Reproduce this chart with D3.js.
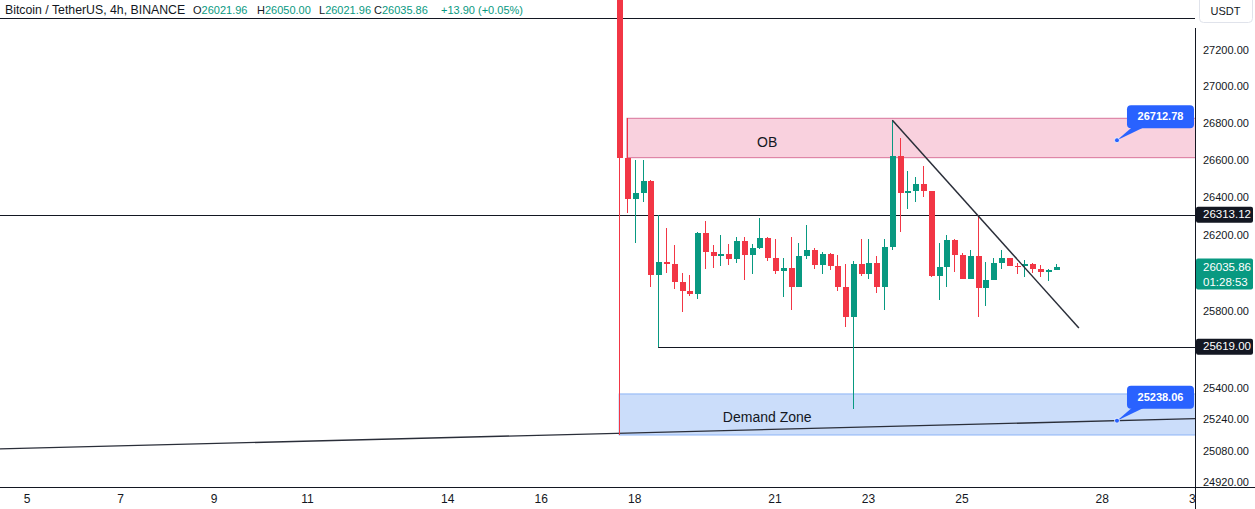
<!DOCTYPE html>
<html><head><meta charset="utf-8">
<script src="https://cdn.jsdelivr.net/npm/d3@7"></script>
<style>html,body{margin:0;padding:0;background:#fff;overflow:hidden}</style>
</head><body>
<svg id="c" width="1255" height="509"></svg>
<script>
// ---------- DATA ----------
const startTime = "2023-08-17T16:00:00Z";   // first visible 4h candle
const candleHours = 4;
const opens = [28380,26618.7,26395.2,26428.9,26493.2,25995.3,26060.7,26050.2,25958.5,25911.2,
  25895.5,26215.9,26116.7,26095.8,26104.8,26079.7,26173.3,26100.6,26136.3,26190.8,
  26085.0,26016.4,26030.6,25932.2,26095.8,26126.0,26048.1,26104.8,26042.8,25932.2,
  25775.2,26051.7,26000.6,26055.4,25932.2,26141.6,26627.8,26426.7,26441.2,26477.2,
  26437.4,25990.1,26037.5,26178.6,26100.6,25974.3,26094.2,25927.0,25967.4,26057.0,
  26083.4,26042.8,26039.6,26051.7,26027.0,26011.3,26021.96];
const highs = [28420,26831.8,26606.3,26606.3,26498.6,26313.12,26242.4,26152.2,26004.3,25993.8,
  26222.8,26279.6,26153.7,26205.2,26157.4,26196.1,26196.1,26157.4,26297.2,26194.5,
  26185.5,26083.4,26196.1,26162.7,26258.3,26136.3,26113.7,26110.0,26101.0,26051.7,
  26067.5,26184.0,26184.0,26094.2,26184.0,26821.0,26724.9,26547.0,26516.4,26574.0,
  26441.2,26162.7,26205.2,26184.0,26108.5,26126.0,26313.12,26062.3,26083.4,26126.0,
  26085.0,26057.0,26072.8,26057.0,26046.5,26025.5,26050.00];
const lows = [25165.0,26320.6,26161.1,26382.4,25932.2,25619.00,26005.9,25920.2,25801.3,25885.0,
  25869.0,26027.0,26032.3,26042.8,26048.1,26058.6,25967.4,26000.6,26132.6,26069.1,
  26000.6,25879.8,25810.2,25932.2,26078.0,26027.0,26000.6,26020.2,25909.7,25723.2,
  25299.3,25990.1,25974.3,25900.7,25810.2,26127.3,26222.8,26345.0,26382.4,26409.5,
  25985.0,25864.0,25932.2,26009.6,25974.3,25974.3,25775.2,25832.6,25967.4,26027.0,
  26040.0,26000.6,25984.8,26005.9,25984.8,25963.8,26021.96];
const closes = [26618.7,26395.2,26428.9,26493.2,25995.3,26060.7,26050.2,25958.5,25911.2,25895.5,
  26215.9,26116.7,26095.8,26104.8,26079.7,26173.3,26100.6,26136.3,26190.8,26085.0,
  26016.4,26030.6,25932.2,26095.8,26126.0,26048.1,26104.8,26042.8,25932.2,25775.2,
  26051.7,26000.6,26055.4,25932.2,26141.6,26627.8,26426.7,26441.2,26477.2,26437.4,
  25990.1,26037.5,26178.6,26100.6,25974.3,26094.2,25927.0,25967.4,26057.0,26083.4,
  26042.8,26039.6,26051.7,26027.0,26011.3,26020.2,26035.86];

const dayTicks = ["2023-08-05","2023-08-07","2023-08-09","2023-08-11","2023-08-14","2023-08-16",
  "2023-08-18","2023-08-21","2023-08-23","2023-08-25","2023-08-28","2023-08-30"];
const priceTicks = [27200,27000,26800,26600,26400,26200,25800,25400,25240,25080,24920];

// drawings
const levelPrices = [27382.4, 26313.12, 25619.00];
const levelStartCandle = [null, null, 5];
const obZone = {fromCandle:1, top:26831.8, bottom:26618.7, label:"OB", labelTime:"2023-08-20T20:00:00Z", labelPrice:26698};
const demandZone = {fromCandle:0, top:25375, bottom:25165.0, label:"Demand Zone", labelTime:"2023-08-20T20:00:00Z", labelPrice:25252};
const supportLine = [{t:"2023-08-17T16:00:00Z", p:25173.8},{t:"2023-08-28T07:34:00Z", p:25238.06}];
const downTrend = [{candle:35, p:26821.0},{t:"2023-08-27T12:00:00Z", p:25716}];
const callouts = [{t:"2023-08-28T07:34:00Z", p:26712.78},{t:"2023-08-28T07:34:00Z", p:25238.06}];
const lastPrice = 26035.86, countdown = "01:28:53";
const header = {title:"Bitcoin / TetherUS, 4h, BINANCE", O:"26021.96", H:"26050.00", L:"26021.96", C:"26035.86", chg:"+13.90 (+0.05%)"};

// ---------- CHART ----------
const W = 1255, H = 509, plotR = 1195, plotB = 487;
const UP = "#089981", DN = "#f23645", INK = "#131722";
const FONT = "'Liberation Sans', Arial, sans-serif";
const svg = d3.select("#c").style("font-family", FONT);

const x = d3.scaleUtc()
  .domain([new Date("2023-08-05T00:00:00Z"), new Date("2023-08-30T00:00:00Z")])
  .range([27, 1195.75]);
const y = d3.scaleLog().domain([27200, 24920]).range([51, 483.3]);

const t0 = new Date(startTime).getTime();
const candles = opens.map((o, i) => ({
  t: new Date(t0 + i * candleHours * 3600e3), o, h: highs[i], l: lows[i], c: closes[i]
}));

const defs = svg.append("defs");
defs.append("clipPath").attr("id", "plot").append("rect").attr("x", 0).attr("y", 0).attr("width", plotR).attr("height", plotB);
defs.append("clipPath").attr("id", "xax").append("rect").attr("x", 0).attr("y", plotB).attr("width", plotR).attr("height", H - plotB);

const g = svg.append("g").attr("clip-path", "url(#plot)");

// zones
function zone(z, fill, stroke) {
  const x0 = x(candles[z.fromCandle].t);
  g.append("rect").attr("x", x0).attr("y", y(z.top)).attr("width", plotR + 5 - x0)
    .attr("height", y(z.bottom) - y(z.top)).attr("fill", fill).attr("stroke", stroke).attr("stroke-width", 1);
  g.append("text").attr("x", x(new Date(z.labelTime))).attr("y", y(z.labelPrice))
    .attr("text-anchor", "middle").attr("dominant-baseline", "middle")
    .attr("font-size", 14).attr("fill", INK).text(z.label);
}
zone(obZone, "#f9d1de", "#d9739a");
zone(demandZone, "#cbddfa", "#8db4f6");

// horizontal levels
levelPrices.forEach((p, i) => {
  const xs = levelStartCandle[i] == null ? 0 : x(candles[levelStartCandle[i]].t);
  const yy = Math.round(y(p)) + 0.5;
  g.append("line").attr("x1", xs).attr("x2", plotR).attr("y1", yy).attr("y2", yy)
    .attr("stroke", INK).attr("stroke-width", 1);
});

// support (extended) line
{
  const ax = x(new Date(supportLine[0].t)), ay = y(supportLine[0].p);
  const bx = x(new Date(supportLine[1].t)), by = y(supportLine[1].p);
  const s = (by - ay) / (bx - ax);
  g.append("line").attr("x1", 0).attr("y1", ay - ax * s).attr("x2", plotR).attr("y2", ay + (plotR - ax) * s)
    .attr("stroke", "#2a2e39").attr("stroke-width", 1.3);
}

// candles
const cg = g.append("g");
candles.forEach(d => {
  const cx = Math.round(x(d.t));
  const col = d.c >= d.o ? UP : DN;
  cg.append("rect").attr("x", cx).attr("width", 1).attr("y", y(d.h)).attr("height", Math.max(1, y(d.l) - y(d.h)))
    .attr("fill", col).attr("shape-rendering", "crispEdges");
  const top = y(Math.max(d.o, d.c)), bot = y(Math.min(d.o, d.c));
  cg.append("rect").attr("x", cx - 2).attr("width", 5.5).attr("y", top).attr("height", Math.max(1, bot - top))
    .attr("fill", col).attr("shape-rendering", "crispEdges");
});

// down trend line
{
  const a = downTrend[0], b = downTrend[1];
  g.append("line").attr("x1", x(candles[a.candle].t) + 0.5).attr("y1", y(a.p))
    .attr("x2", x(new Date(b.t))).attr("y2", y(b.p))
    .attr("stroke", "#2a2e39").attr("stroke-width", 1.5);
}

// callouts
callouts.forEach(cl => {
  const px = x(new Date(cl.t)), py = y(cl.p);
  const bx = px + 10, by = py - 35, bw = 67, bh = 23;
  svg.append("path").attr("d", `M${px},${py} L${bx + 5},${by + bh - 1} L${bx + 17},${by + bh - 1} Z`).attr("fill", "#2962ff");
  svg.append("rect").attr("x", bx).attr("y", by).attr("width", bw).attr("height", bh).attr("rx", 4).attr("fill", "#2962ff");
  svg.append("text").attr("x", bx + bw / 2).attr("y", by + bh / 2 + 0.5).attr("text-anchor", "middle")
    .attr("dominant-baseline", "middle").attr("font-size", 11).attr("font-weight", "bold").attr("fill", "#fff")
    .text(cl.p.toFixed(2));
  svg.append("circle").attr("cx", px).attr("cy", py).attr("r", 2.5).attr("fill", "#2962ff").attr("stroke", "#fff").attr("stroke-width", 0.8);
});

// axes frame
svg.append("line").attr("x1", 0).attr("x2", W).attr("y1", plotB + 0.5).attr("y2", plotB + 0.5).attr("stroke", INK);
svg.append("line").attr("x1", plotR + 0.5).attr("x2", plotR + 0.5).attr("y1", 28).attr("y2", H).attr("stroke", INK);

// x axis labels
const xg = svg.append("g").attr("clip-path", "url(#xax)");
dayTicks.forEach(ds => {
  const d = new Date(ds + "T00:00:00Z");
  xg.append("text").attr("x", x(d)).attr("y", 503).attr("text-anchor", "middle")
    .attr("font-size", 12).attr("fill", INK).text(d.getUTCDate());
});

// y axis labels
priceTicks.forEach(p => {
  svg.append("text").attr("x", 1203).attr("y", y(p)).attr("dominant-baseline", "middle")
    .attr("font-size", 11).attr("fill", INK).text(p.toFixed(2));
});
svg.append("rect").attr("x", plotR + 1).attr("y", plotB + 1).attr("width", W - plotR).attr("height", H - plotB).attr("fill", "#fff");

// level price tags
[levelPrices[1], levelPrices[2]].forEach(p => {
  const yy = y(p);
  svg.append("rect").attr("x", plotR + 1).attr("y", yy - 8).attr("width", 57).attr("height", 16).attr("rx", 2).attr("fill", INK);
  svg.append("text").attr("x", 1203).attr("y", yy + 0.5).attr("dominant-baseline", "middle")
    .attr("font-size", 11.5).attr("fill", "#fff").text(p.toFixed(2));
});
{
  const yy = y(lastPrice);
  svg.append("rect").attr("x", plotR + 1).attr("y", yy - 8.5).attr("width", 57).attr("height", 31).attr("rx", 2).attr("fill", UP);
  svg.append("text").attr("x", 1203).attr("y", yy + 0.5).attr("dominant-baseline", "middle")
    .attr("font-size", 11.5).attr("fill", "#fff").text(lastPrice.toFixed(2));
  svg.append("text").attr("x", 1203).attr("y", yy + 15.5).attr("dominant-baseline", "middle")
    .attr("font-size", 11.5).attr("fill", "#fff").text(countdown);
}

// USDT box
svg.append("rect").attr("x", 1199.5).attr("y", -4).attr("width", 53).attr("height", 26.5).attr("rx", 4)
  .attr("fill", "#fff").attr("stroke", "#e0e3eb");
svg.append("text").attr("x", 1225.5).attr("y", 12.5).attr("text-anchor", "middle").attr("dominant-baseline", "middle")
  .attr("font-size", 11).attr("fill", INK).text("USDT");

// header
const hd = svg.append("text").attr("y", 14).attr("font-size", 12.3).attr("fill", INK);
hd.append("tspan").attr("x", 5).text(header.title);
[["O", header.O, 193], ["H", header.H, 257], ["L", header.L, 319], ["C", header.C, 374]].forEach(([k, v, px]) => {
  hd.append("tspan").attr("x", px).attr("fill", INK).attr("font-size", 11).text(k);
  hd.append("tspan").attr("fill", UP).attr("font-size", 11).text(v);
});
hd.append("tspan").attr("x", 441).attr("fill", UP).attr("font-size", 11).text(header.chg);
</script>
</body></html>
